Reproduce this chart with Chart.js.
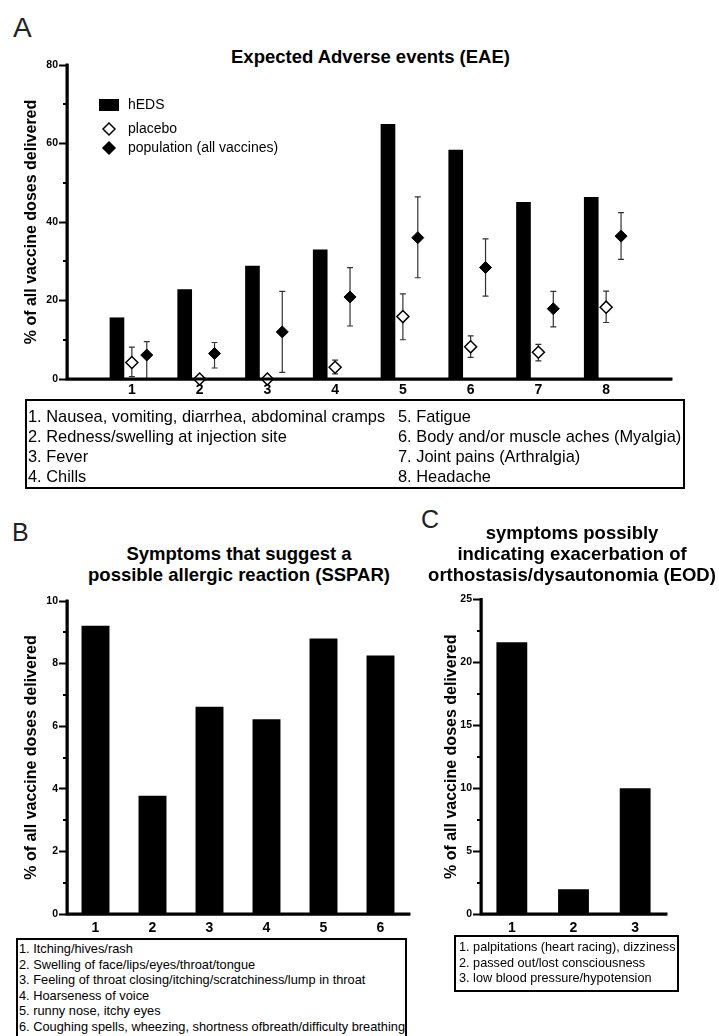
<!DOCTYPE html>
<html>
<head>
<meta charset="utf-8">
<script src="https://cdn.jsdelivr.net/npm/chart.js@4.4.0/dist/chart.umd.min.js"></script>
<style>
  body { margin: 0; width: 719px; height: 1036px; background: #fff; overflow: hidden; position: relative;
         font-family: "Liberation Sans", Arial, Helvetica, sans-serif; color: #000; }
  canvas, .lbl, .ttl, .key { position: absolute; }
  .lbl { line-height: 1; font-weight: normal; color: #222; }
  .ttl { font-weight: bold; font-size: 18.5px; line-height: 21px; text-align: center; white-space: nowrap; }
  .key { border: 2px solid #000; box-sizing: border-box; white-space: nowrap; }
</style>
</head>
<body>

<div class="lbl" style="left:13px; top:14px; font-size:28px;">A</div>
<div class="ttl" style="left:0; top:45.5px; width:741px;">Expected Adverse events (EAE)</div>
<canvas id="chartA" width="719" height="400" style="left:0; top:0;"></canvas>

<div class="key" style="left:25px; top:399px; width:660px; height:90px; font-size:16.4px; line-height:20px;">
  <div style="position:absolute; left:1px; top:5px;">
    1. Nausea, vomiting, diarrhea, abdominal cramps<br>2. Redness/swelling at injection site<br>3. Fever<br>4. Chills
  </div>
  <div style="position:absolute; left:371px; top:5px;">
    5. Fatigue<br>6. Body and/or muscle aches (Myalgia)<br>7. Joint pains (Arthralgia)<br>8. Headache
  </div>
</div>

<div class="lbl" style="left:12px; top:520px; font-size:25px;">B</div>
<div class="ttl" style="left:0; top:542.5px; width:478px;">Symptoms that suggest a<br>possible allergic reaction (SSPAR)</div>
<canvas id="chartB" width="420" height="436" style="left:0; top:500px;"></canvas>

<div class="lbl" style="left:421px; top:507px; font-size:25px;">C</div>
<div class="ttl" style="left:372px; top:521.5px; width:400px;">symptoms possibly<br>indicating exacerbation of<br>orthostasis/dysautonomia (EOD)</div>
<canvas id="chartC" width="299" height="436" style="left:420px; top:500px;"></canvas>

<div class="key" style="left:16px; top:938px; width:391px; height:110px; font-size:12.8px; line-height:15.6px; padding:1px 0 0 1px;">
  1. Itching/hives/rash<br>2. Swelling of face/lips/eyes/throat/tongue<br>3. Feeling of throat closing/itching/scratchiness/lump in throat<br>4. Hoarseness of voice<br>5. runny nose, itchy eyes<br>6. Coughing spells, wheezing, shortness ofbreath/difficulty breathing
</div>

<div class="key" style="left:454px; top:935px; width:225px; height:57px; font-size:12.7px; line-height:15.5px; padding:3px 0 0 3px;">
  1. palpitations (heart racing), dizziness<br>2. passed out/lost consciousness<br>3. low blood pressure/hypotension
</div>

<script>
// panel A - expected adverse events
const categoriesA = ['1', '2', '3', '4', '5', '6', '7', '8'];
const hedsA        = [15.6, 22.8, 28.8, 32.9, 64.9, 58.3, 45.0, 46.3];
const placeboA     = [4.2, 0, 0, 3.0, 15.9, 8.2, 6.8, 18.3];
const placeboLowA  = [0.6, 0, 0, 1.3, 10.0, 5.5, 4.6, 14.4];
const placeboHighA = [8.1, 0, 0, 4.8, 21.7, 11.0, 8.8, 22.4];
const popA         = [6.1, 6.5, 12.0, 20.9, 36.0, 28.4, 17.9, 36.4];
const popLowA      = [0, 2.8, 1.7, 13.5, 25.8, 21.1, 13.3, 30.5];
const popHighA     = [9.5, 9.3, 22.3, 28.4, 46.4, 35.7, 22.3, 42.4];

// panel B - SSPAR
const categoriesB = ['1', '2', '3', '4', '5', '6'];
const valuesB     = [9.21, 3.78, 6.62, 6.22, 8.80, 8.26];

// panel C - EOD
const categoriesC = ['1', '2', '3'];
const valuesC     = [21.6, 1.96, 10.0];

Chart.defaults.font.family = '"Liberation Sans", Arial, Helvetica, sans-serif';
Chart.defaults.color = '#000';

const shift = 0.22; // offset of bar / population marker inside a group

// heavy axis lines + short unlabeled ticks between the labeled ones
const axisLines = {
  id: 'axisLines',
  afterDraw(chart) {
    const x = chart.scales.x, y = chart.scales.y, ctx = chart.ctx;
    ctx.save();
    ctx.strokeStyle = '#000';
    ctx.lineWidth = 3;
    ctx.lineCap = 'square';
    ctx.beginPath();
    ctx.moveTo(y.right, y.top);
    ctx.lineTo(y.right, x.top);
    ctx.lineTo(x.right, x.top);
    ctx.stroke();
    ctx.lineWidth = 2;
    ctx.lineCap = 'butt';
    y.ticks.forEach(t => {
      if (t.label !== '') return;
      const py = Math.round(y.getPixelForValue(t.value));
      ctx.beginPath();
      ctx.moveTo(y.right - 4, py);
      ctx.lineTo(y.right, py);
      ctx.stroke();
    });
    ctx.restore();
  }
};

const errorBars = {
  id: 'errorBars',
  beforeDatasetsDraw(chart) {
    const ctx = chart.ctx, y = chart.scales.y;
    ctx.save();
    ctx.strokeStyle = '#333';
    ctx.lineWidth = 1.2;
    chart.data.datasets.forEach((ds, i) => {
      if (!ds.errLow) return;
      chart.getDatasetMeta(i).data.forEach((pt, j) => {
        const lo = ds.errLow[j], hi = ds.errHigh[j];
        if (hi <= lo) return;
        const x = pt.x, y1 = y.getPixelForValue(lo), y2 = y.getPixelForValue(hi);
        ctx.beginPath();
        ctx.moveTo(x, y1); ctx.lineTo(x, y2);
        ctx.moveTo(x - 3, y2); ctx.lineTo(x + 3, y2);
        if (lo > 0) { ctx.moveTo(x - 3, y1); ctx.lineTo(x + 3, y1); }
        ctx.stroke();
      });
    });
    ctx.restore();
  }
};

const insideLegend = {
  id: 'insideLegend',
  afterDraw(chart, args, opts) {
    const ctx = chart.ctx, a = chart.chartArea;
    ctx.save();
    ctx.font = '14px "Liberation Sans", Arial, sans-serif';
    ctx.textBaseline = 'middle';
    chart.data.datasets.forEach((ds, i) => {
      const cx = a.left + opts.x, cy = a.top + opts.rows[i];
      if (ds.type === 'bar') {
        ctx.fillStyle = ds.backgroundColor;
        ctx.fillRect(cx - 10, cy - 6, 20, 12);
      } else {
        ctx.beginPath();
        ctx.moveTo(cx - 6, cy); ctx.lineTo(cx, cy - 6); ctx.lineTo(cx + 6, cy); ctx.lineTo(cx, cy + 6);
        ctx.closePath();
        ctx.fillStyle = ds.backgroundColor;
        ctx.fill();
        ctx.lineWidth = 1.5;
        ctx.strokeStyle = ds.borderColor;
        ctx.stroke();
      }
      ctx.fillStyle = '#000';
      ctx.fillText(ds.label, cx + 19, cy);
    });
    ctx.restore();
  }
};

function yAxis(max, step, labelStep, width) {
  return {
    min: 0,
    max: max,
    afterFit: s => { s.width = width; },
    border: { display: true, color: '#000', width: 2.5 },
    grid: {
      drawOnChartArea: false, tickLength: 8, tickWidth: 2,
      tickColor: c => (c.tick && c.tick.value % labelStep === 0 ? '#000' : 'rgba(0,0,0,0)')
    },
    ticks: {
      stepSize: step, padding: 1,
      font: { size: 10.5, weight: 'bold' },
      callback: v => (v % labelStep === 0 ? v : '')
    },
    title: {
      display: true, text: '% of all vaccine doses delivered',
      font: { size: 16, weight: 'bold' }, padding: { top: 22.4, bottom: 0 }
    }
  };
}

function xAxis(fontSize, pad, height) {
  return {
    afterFit: s => { s.height = height; },
    border: { display: true, color: '#000', width: 2.5 },
    grid: { display: false, drawTicks: false },
    ticks: { padding: pad, font: { size: fontSize, weight: 'bold' } }
  };
}

const xA = xAxis(14, 3, 21);
xA.type = 'linear';
xA.min = 0.6;
xA.max = 8.4;
xA.ticks.stepSize = 1;
xA.ticks.includeBounds = false;
xA.ticks.callback = v => categoriesA[v - 1];

new Chart(document.getElementById('chartA'), {
  type: 'bar',
  data: {
    datasets: [
      {
        type: 'bar', label: 'hEDS',
        data: hedsA.map((v, i) => ({ x: i + 1 - shift, y: v })),
        backgroundColor: '#000', barThickness: 14
      },
      {
        type: 'scatter', label: 'placebo',
        data: placeboA.map((v, i) => ({ x: i + 1, y: v })),
        errLow: placeboLowA, errHigh: placeboHighA,
        pointStyle: 'rectRot', pointRadius: 6, backgroundColor: '#fff',
        borderColor: '#000', borderWidth: 1.5, clip: false
      },
      {
        type: 'scatter', label: 'population (all vaccines)',
        data: popA.map((v, i) => ({ x: i + 1 + shift, y: v })),
        errLow: popLowA, errHigh: popHighA,
        pointStyle: 'rectRot', pointRadius: 6, backgroundColor: '#000',
        borderColor: '#000', borderWidth: 1, clip: false
      }
    ]
  },
  options: {
    responsive: false,
    animation: false,
    layout: { padding: { top: 65, right: 48, bottom: 0, left: 0 } },
    plugins: {
      legend: { display: false },
      tooltip: { enabled: false },
      insideLegend: { x: 42, rows: [40, 64, 83] }
    },
    scales: { x: xA, y: yAxis(80, 10, 20, 67) }
  },
  plugins: [axisLines, errorBars, insideLegend]
});

new Chart(document.getElementById('chartB'), {
  type: 'bar',
  data: {
    labels: categoriesB,
    datasets: [{ data: valuesB, backgroundColor: '#000', barPercentage: 0.49, categoryPercentage: 1 }]
  },
  options: {
    responsive: false,
    animation: false,
    layout: { padding: { top: 101, right: 11, bottom: 0, left: 0 } },
    plugins: { legend: { display: false }, tooltip: { enabled: false } },
    scales: { x: xAxis(14, 5.6, 22), y: yAxis(10, 1, 2, 67) }
  },
  plugins: [axisLines]
});

new Chart(document.getElementById('chartC'), {
  type: 'bar',
  data: {
    labels: categoriesC,
    datasets: [{ data: valuesC, backgroundColor: '#000', barPercentage: 0.5, categoryPercentage: 1 }]
  },
  options: {
    responsive: false,
    animation: false,
    layout: { padding: { top: 99.5, right: 53, bottom: 0, left: 0 } },
    plugins: { legend: { display: false }, tooltip: { enabled: false } },
    scales: { x: xAxis(14, 5.6, 22), y: yAxis(25, 2.5, 5, 61) }
  },
  plugins: [axisLines]
});
</script>
</body>
</html>
